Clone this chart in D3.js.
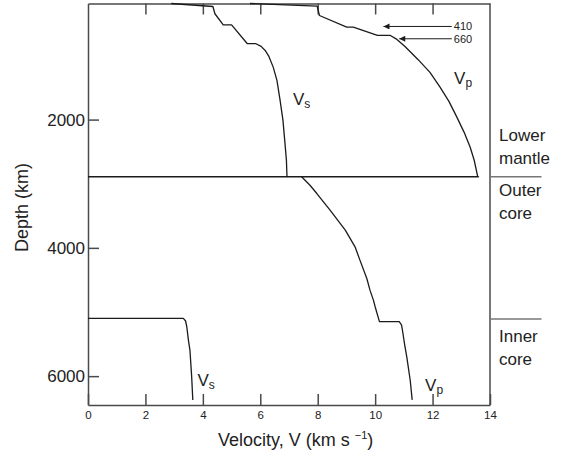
<!DOCTYPE html>
<html lang="en">
<head>
<meta charset="UTF-8">
<title>Seismic velocity vs depth</title>
<script src="https://cdn.jsdelivr.net/npm/d3@7"></script>
<style>
    body{ margin:0; background:#fff; }
    svg{ display:block; font-family:"Liberation Sans", Arial, sans-serif; fill:#222; }
    .curve{ fill:none; stroke:#1b1b1b; stroke-width:1.3px; stroke-linejoin:round; }
    .axis path, .axis line{ stroke:#4a4a4a; stroke-width:1.5px; }
    .frame{ stroke:#4a4a4a; stroke-width:1.5px; fill:none; }
    .yaxis text{ font-size:17px; fill:#222; }
    .xaxis text{ font-size:11.5px; fill:#222; }
    .boundary{ stroke:#777; stroke-width:1.5px; }
    .region{ font-size:17px; fill:#222; }
    .title{ font-size:18px; fill:#222; }
    .vlabel{ font-size:17px; fill:#222; }
    .arrow{ stroke:#1b1b1b; stroke-width:1px; }
    .arrowtext{ font-size:11px; fill:#222; }
</style>
</head>
<body>
<svg id="main" width="562" height="454"></svg>
<script>
    // [velocity km/s, depth km]
    const vsMantle = [[2.9,190],[4.35,237],[4.42,350],[4.71,522],[5.0,522],[5.55,817],[5.85,817],
        [6.03,859],[6.17,922],[6.30,1015],[6.45,1182],[6.58,1389],[6.69,1700],[6.79,2012],
        [6.86,2370],[6.91,2634],[6.93,2891],[0,2891]];
    const vsInnerCore = [[0,5100],[3.32,5100],[3.40,5141],[3.44,5230],[3.50,5450],[3.55,5593],
        [3.61,6008],[3.65,6371]];
    const vpMantle = [[5.64,190],[7.98,232],[8.06,377],[9.01,559],[9.24,559],[10.08,688],[10.53,688],
        [10.76,750],[11.04,860],[11.49,1062],[11.91,1264],[12.26,1493],[12.57,1716],[12.85,1965],
        [13.10,2199],[13.31,2432],[13.45,2634],[13.57,2884],[13.6,2891],[6.93,2891]];
    const vpCore = [[7.44,2891],[7.73,3024],[7.97,3153],[8.43,3413],[8.96,3724],[9.30,3984],
        [9.47,4191],[9.71,4477],[9.82,4659],[9.94,4815],[10.0,4918],[10.15,5150],[10.84,5150],
        [10.92,5203],[10.96,5308],[11.03,5515],[11.10,5697],[11.22,6060],[11.29,6371]];

    const xTicks = [0,2,4,6,8,10,12,14];
    const topTicks = [2,4,6,8,10,12];
    const yTicks = [2000,4000,6000];
    const boundaries = [2891, 5110];
    const regionNames = [["Lower","mantle"],["Outer","core"],["Inner","core"]];
    const discontinuities = ["410","660"];
    const arrowDepths = [548, 740];
    const arrowTips = [10.29, 10.84];

    const svg = d3.select("#main");
    const margins = {top:3.5, left:88, right:72, bottom:49};
    const W = 562, H = 454;

    const xScale = d3.scaleLinear().domain([0,14]).range([margins.left, W-margins.right]);
    const yScale = d3.scaleLinear().domain([190,6450]).range([margins.top, H-margins.bottom]);

    // axes
    svg.append("g")
        .attr("class","axis xaxis")
        .attr("transform",`translate(0,${yScale.range()[1]})`)
        .call(d3.axisBottom(xScale).tickValues(xTicks).tickSizeInner(-11).tickSizeOuter(0).tickPadding(6));
    svg.append("g")
        .attr("class","axis")
        .attr("transform",`translate(0,${yScale.range()[0]})`)
        .call(d3.axisTop(xScale).tickValues(topTicks).tickSizeInner(-11).tickSizeOuter(0).tickFormat(""));
    svg.append("g")
        .attr("class","axis yaxis")
        .attr("transform",`translate(${xScale(0)},0)`)
        .call(d3.axisLeft(yScale).tickValues(yTicks).tickFormat(d3.format("d"))
            .tickSizeInner(-11).tickSizeOuter(0).tickPadding(3));
    svg.append("line").attr("class","frame")
        .attr("x1",xScale(14)).attr("x2",xScale(14))
        .attr("y1",yScale.range()[0]).attr("y2",yScale.range()[1]);

    // velocity curves
    const line = d3.line().x(d=>xScale(d[0])).y(d=>yScale(d[1]));
    svg.append("g").selectAll("path")
        .data([vsMantle, vsInnerCore, vpMantle, vpCore])
        .enter()
        .append("path")
        .attr("class","curve")
        .attr("d",d=>line(d));

    // layer boundaries outside the frame
    svg.selectAll(".boundary")
        .data(boundaries)
        .enter()
        .append("line")
        .attr("class","boundary")
        .attr("x1",xScale(14)).attr("x2",541.5)
        .attr("y1",d=>yScale(d)).attr("y2",d=>yScale(d));

    const regionY = [yScale(boundaries[0])-36, yScale(boundaries[0])+19, yScale(boundaries[1])+23];
    regionNames.forEach((lines,i)=>{
        const t = svg.append("text").attr("class","region")
            .attr("x",499).attr("y",regionY[i]);
        lines.forEach((s,j)=>t.append("tspan").attr("x",499).attr("dy",j?23:0).text(s));
    });

    // 410 / 660 arrows
    svg.append("defs").append("marker")
        .attr("id","head").attr("viewBox","0 0 10 10")
        .attr("refX",10).attr("refY",5)
        .attr("markerUnits","userSpaceOnUse")
        .attr("markerWidth",8).attr("markerHeight",6)
        .attr("orient","auto")
        .append("path").attr("d","M0,0L10,5L0,10z").attr("fill","#1b1b1b");
    discontinuities.forEach((lab,i)=>{
        svg.append("line").attr("class","arrow")
            .attr("x1",xScale(12.67)).attr("x2",xScale(arrowTips[i]))
            .attr("y1",yScale(arrowDepths[i])).attr("y2",yScale(arrowDepths[i]))
            .attr("marker-end","url(#head)");
        svg.append("text").attr("class","arrowtext")
            .attr("x",xScale(12.67)+2).attr("y",yScale(arrowDepths[i])+4)
            .text(lab);
    });

    // V labels
    const vLabels = [["s",7.14,1778],["p",12.75,1440],["s",3.81,6153],["p",11.74,6226]];
    vLabels.forEach(([sub,v,d])=>{
        const t = svg.append("text").attr("class","vlabel")
            .attr("x",xScale(v)).attr("y",yScale(d));
        t.append("tspan").text("V");
        t.append("tspan").attr("font-size","12px").attr("dy",3).text(sub);
    });

    // titles
    const xt = svg.append("text").attr("class","title")
        .attr("x",218).attr("y",446);
    xt.append("tspan").text("Velocity, V (km s ");
    xt.append("tspan").attr("font-size","11px").attr("dy",-7).text("\u22121");
    xt.append("tspan").attr("dy",7).text(")");

    svg.append("text").attr("class","title")
        .attr("transform",`translate(28,${(161.7+253.3)/2}) rotate(-90)`)
        .attr("text-anchor","middle")
        .text("Depth (km)");
</script>
</body>
</html>
